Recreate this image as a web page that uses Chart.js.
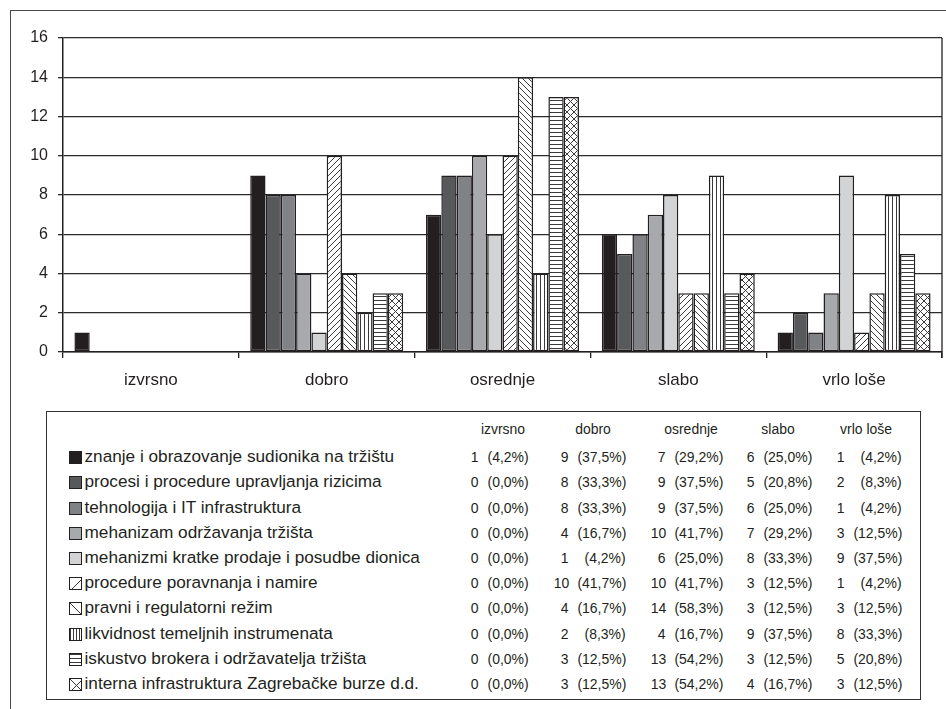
<!DOCTYPE html>
<html>
<head>
<meta charset="utf-8">
<script src="https://cdn.jsdelivr.net/npm/chart.js@4.4.1/dist/chart.umd.min.js"></script>
<style>
  html, body { margin: 0; padding: 0; background: #fff; }
  #page { position: relative; width: 946px; height: 709px; overflow: hidden;
          font-family: "Liberation Sans", Arial, sans-serif; color: #231f20; }
  #frame { position: absolute; left: 10px; top: 10px; width: 980px; height: 740px;
           border: 1.5px solid #4a4a4a; box-sizing: border-box; }
  #wrap { position: absolute; left: 0; top: 0; width: 946px; height: 400px; }
  #legendBox { position: absolute; left: 46px; top: 411px; width: 875px; height: 289px;
               border: 1.5px solid #333; box-sizing: border-box; }
  .t { position: absolute; white-space: nowrap; line-height: 1; }
  .sw { position: absolute; width: 13px; height: 13px; box-sizing: border-box;
        border: 1.2px solid #231f20; }
</style>
</head>
<body>
<div id="page">
  <div id="frame"></div>
  <div id="wrap"><canvas id="c"></canvas></div>
  <div id="legendBox"></div>
</div>
<script>
// Rating categories (x axis) and the number of respondents per rating
const categories = ['izvrsno', 'dobro', 'osrednje', 'slabo', 'vrlo loše'];
const yTicks = [0, 2, 4, 6, 8, 10, 12, 14, 16];
const respondents = 24;

const znanje      = [1, 9, 7, 6, 1];
const procesi     = [0, 8, 9, 5, 2];
const tehnologija = [0, 8, 9, 6, 1];
const mehanizam   = [0, 4, 10, 7, 3];
const kratka      = [0, 1, 6, 8, 9];
const poravnanje  = [0, 10, 10, 3, 1];
const pravni      = [0, 4, 14, 3, 3];
const likvidnost  = [0, 2, 4, 9, 8];
const iskustvo    = [0, 3, 13, 3, 5];
const interna     = [0, 3, 13, 4, 3];

const seriesNames = [
  'znanje i obrazovanje sudionika na tržištu',
  'procesi i procedure upravljanja rizicima',
  'tehnologija i IT infrastruktura',
  'mehanizam održavanja tržišta',
  'mehanizmi kratke prodaje i posudbe dionica',
  'procedure poravnanja i namire',
  'pravni i regulatorni režim',
  'likvidnost temeljnih instrumenata',
  'iskustvo brokera i održavatelja tržišta',
  'interna infrastruktura Zagrebačke burze d.d.'
];
const seriesValues = [znanje, procesi, tehnologija, mehanizam, kratka,
                      poravnanje, pravni, likvidnost, iskustvo, interna];
const seriesFills = ['#231f20', '#58595b', '#808285', '#a7a9ac', '#d1d3d4',
                     'diag', 'back', 'vert', 'horiz', 'cross'];

const INK = '#231f20';

// Hatch tiles
function hatchTile(kind, p) {
  const cv = document.createElement('canvas');
  cv.width = p; cv.height = p;
  const g = cv.getContext('2d');
  g.fillStyle = '#fff';
  g.fillRect(0, 0, p, p);
  g.strokeStyle = '#3a3a3a';
  g.lineWidth = 1;
  g.beginPath();
  const diag = () => {
    g.moveTo(-1, p + 1); g.lineTo(p + 1, -1);
    g.moveTo(-1, 1); g.lineTo(1, -1);
    g.moveTo(p - 1, p + 1); g.lineTo(p + 1, p - 1);
  };
  const back = () => {
    g.moveTo(-1, -1); g.lineTo(p + 1, p + 1);
    g.moveTo(p - 1, -1); g.lineTo(p + 1, 1);
    g.moveTo(-1, p - 1); g.lineTo(1, p + 1);
  };
  if (kind === 'diag') diag();
  if (kind === 'back') back();
  if (kind === 'cross') { diag(); back(); }
  if (kind === 'vert') { g.moveTo(0.5, 0); g.lineTo(0.5, p); }
  if (kind === 'horiz') { g.moveTo(0, 0.5); g.lineTo(p, 0.5); }
  g.stroke();
  return cv;
}

const barPeriods = { diag: 6, back: 6, cross: 7, vert: 4, horiz: 4 };
const swatchPeriods = { diag: 13, back: 13, cross: 13, vert: 3.5, horiz: 4 };

const ctx = document.getElementById('c').getContext('2d');
function fillFor(f) {
  if (f.startsWith('#')) return f;
  return ctx.createPattern(hatchTile(f, barPeriods[f]), 'repeat');
}

const plotFrame = {
  id: 'plotFrame',
  afterDraw(chart) {
    const a = chart.chartArea;
    const c = chart.ctx;
    c.save();
    c.strokeStyle = INK;
    c.lineWidth = 1.3;
    c.beginPath();
    c.moveTo(a.right, a.top);
    c.lineTo(a.right, a.bottom + 6);
    c.stroke();
    c.restore();
  }
};

new Chart(ctx, {
  type: 'bar',
  data: {
    labels: categories,
    datasets: seriesValues.map((vals, i) => ({
      label: seriesNames[i],
      data: vals,
      backgroundColor: fillFor(seriesFills[i]),
      borderColor: INK,
      borderWidth: c => (c.raw === 0 ? 0 : 1.5),
      borderSkipped: false,
      categoryPercentage: 0.87,
      barPercentage: 1.0
    }))
  },
  options: {
    responsive: true,
    maintainAspectRatio: false,
    animation: false,
    layout: { padding: { left: 0, top: 38, right: 4, bottom: 0 } },
    plugins: { legend: { display: false }, tooltip: { enabled: false } },
    scales: {
      x: {
        grid: { offset: true, drawOnChartArea: false, tickLength: 6, color: INK, lineWidth: 1.3 },
        border: { display: true, color: INK, width: 1.5 },
        ticks: { color: INK, font: { family: 'Liberation Sans', size: 17 }, padding: 12 },
        afterFit: s => { s.height = 48; }
      },
      y: {
        min: 0, max: 16,
        afterBuildTicks: s => { s.ticks = yTicks.map(v => ({ value: v })); },
        grid: { color: '#2b2b2b', lineWidth: 1.3, tickLength: 5 },
        border: { display: true, color: INK, width: 1.5 },
        ticks: { color: INK, font: { family: 'Liberation Sans', size: 16 }, padding: 10 },
        afterFit: s => { s.width = 63; }
      }
    }
  },
  plugins: [plotFrame]
});

// Legend table with counts and shares per rating
const page = document.getElementById('page');
function addText(txt, opts) {
  const d = document.createElement('div');
  d.className = 't';
  d.textContent = txt;
  d.style.fontSize = opts.size + 'px';
  d.style.top = (opts.cy - opts.size * 0.55) + 'px';
  const sx = opts.sx || 1;
  if (opts.right !== undefined) {
    d.style.right = (946 - opts.right) + 'px';
    d.style.transformOrigin = 'right center';
    d.style.transform = 'scaleX(' + sx + ')';
  }
  if (opts.left !== undefined) {
    d.style.left = opts.left + 'px';
    d.style.transformOrigin = 'left center';
    d.style.transform = 'scaleX(' + sx + ')';
  }
  if (opts.center !== undefined) {
    d.style.left = opts.center + 'px';
    d.style.transform = 'translateX(-50%) scaleX(' + sx + ')';
  }
  page.appendChild(d);
  return d;
}

const headerCenters = [502.7, 593, 690.7, 778, 866];
const numRight = [479, 569, 666, 755, 845];
const pctRight = [529, 626, 723, 812, 902];
const headerY = 430;
const row0Y = 457.7;
const rowStep = 25.2;
const cellSize = 15.5, cellScale = 0.9;

categories.forEach((cat, j) =>
  addText(cat, { size: cellSize, sx: cellScale, cy: headerY, center: headerCenters[j] }));

seriesNames.forEach((name, i) => {
  const cy = row0Y + i * rowStep;
  const sw = document.createElement('div');
  sw.className = 'sw';
  sw.style.left = '69px';
  sw.style.top = (cy - 6.5) + 'px';
  const f = seriesFills[i];
  if (f.startsWith('#')) sw.style.background = f;
  else sw.style.backgroundImage = 'url(' + hatchTile(f, swatchPeriods[f]).toDataURL() + ')';
  page.appendChild(sw);
  addText(name, { size: 17.2, cy: cy, left: 84.5 });
  seriesValues[i].forEach((v, j) => {
    addText(String(v), { size: cellSize, sx: cellScale, cy: cy, right: numRight[j] });
    const pct = (v / respondents * 100).toFixed(1).replace('.', ',');
    addText('(' + pct + '%)', { size: cellSize, sx: cellScale, cy: cy, right: pctRight[j] });
  });
});
</script>
</body>
</html>
